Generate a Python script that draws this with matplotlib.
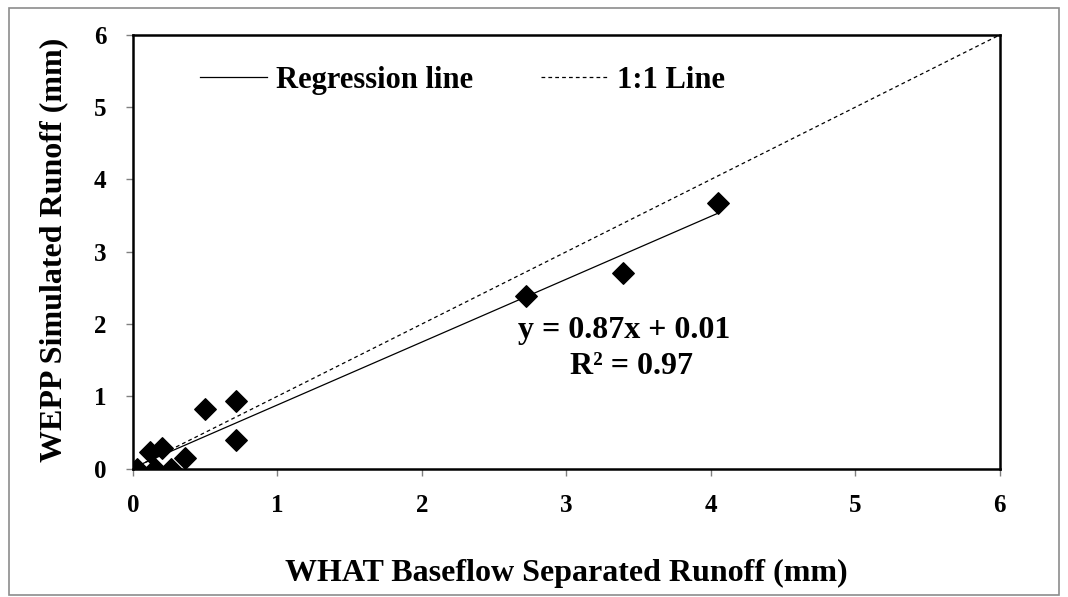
import numpy as np
import matplotlib.pyplot as plt
from matplotlib.patches import Rectangle

# observed (WHAT) vs simulated (WEPP) runoff, mm
what_mm = [0.03, 0.12, 0.15, 0.20, 0.26, 0.36, 0.50, 0.71, 0.71, 2.72, 3.39, 4.05]
wepp_mm = [0.00, 0.23, 0.00, 0.28, 0.00, 0.15, 0.82, 0.94, 0.40, 2.39, 2.71, 3.68]

slope, intercept = 0.87, 0.01
r2 = 0.97
ticks = [0, 1, 2, 3, 4, 5, 6]

plt.rcParams['font.family'] = ['Liberation Serif', 'DejaVu Serif']
plt.rcParams['font.weight'] = 'bold'

fig = plt.figure(figsize=[10.68, 5.97], dpi=100)
ax = fig.add_axes([0.1245, 0.2152, 0.8115, 0.7262])

# outer chart border like the excel chart area
fig.patches.append(Rectangle((0.008, 0.003), 0.984, 0.984, transform=fig.transFigure,
                             fill=False, edgecolor="#8c8c8c", linewidth=1.2))

xr = np.array([min(what_mm), max(what_mm)])
ax.plot(xr, slope * xr + intercept, color="black", linewidth=0.9, label="Regression line")
ax.plot([0, 6], [0, 6], color="black", linewidth=0.9, linestyle=(0, (3, 2.5)), label="1:1 Line")
ax.scatter(what_mm, wepp_mm, marker="D", s=120, color="black", zorder=3)

ax.text(3.4, 1.91, f"y = {slope}x + {intercept}", ha="center", va="center",
        fontsize=23, fontweight="bold")
ax.text(3.45, 1.41, f"R\u00b2 = {r2}", ha="center", va="center",
        fontsize=23, fontweight="bold")

ax.set_xlim(0, 6)
ax.set_ylim(0, 6)
ax.set_xticks(ticks)
ax.set_yticks(ticks)
ax.tick_params(direction="out", length=5, width=1, color="#808080", labelsize=18)
ax.tick_params(axis="x", pad=13)
ax.tick_params(axis="y", pad=14)
for lab in ax.get_xticklabels() + ax.get_yticklabels():
    lab.set_fontweight("bold")
for sp in ax.spines.values():
    sp.set_linewidth(1.8)
    sp.set_color("black")

ax.set_xlabel("WHAT Baseflow Separated Runoff (mm)", fontsize=23, fontweight="bold")
ax.set_ylabel("WEPP Simulated Runoff (mm)", fontsize=23, fontweight="bold")
ax.xaxis.set_label_coords(0.5, -0.242)
ax.xaxis.label.set_va("center")
ax.yaxis.set_label_coords(-0.091, 0.505)
ax.yaxis.label.set_va("center")

leg = ax.legend(loc="center left", bbox_to_anchor=(0.0773, 0.895), ncol=2, frameon=False,
                prop={"size": 22, "weight": "bold"}, handlelength=2.2, columnspacing=2.2,
                handletextpad=0.3, borderpad=0, borderaxespad=0)

plt.savefig("out.png", dpi=100)
